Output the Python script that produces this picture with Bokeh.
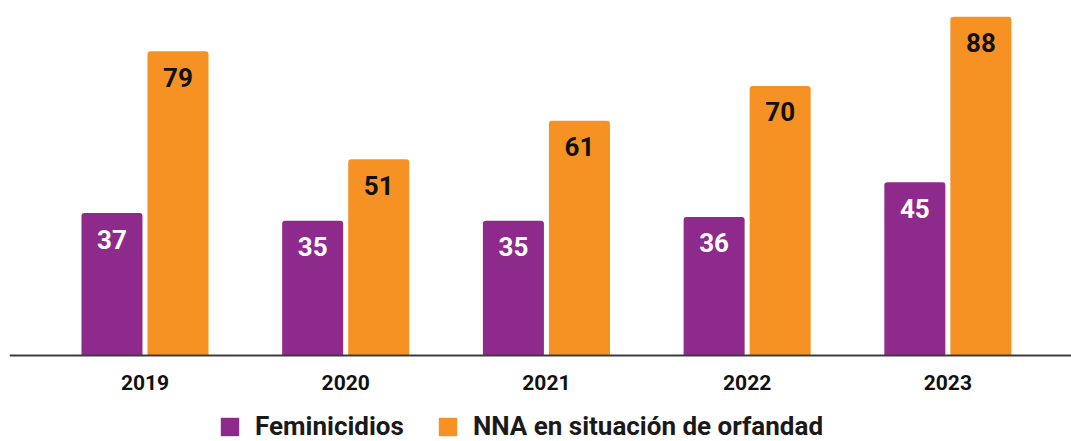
from bokeh.plotting import figure
from bokeh.models import ColumnDataSource, Legend, LegendItem, Range1d, Span
from bokeh.core.properties import value
from bokeh.embed import file_html
from bokeh.resources import INLINE

years = ["2019", "2020", "2021", "2022", "2023"]
feminicidios = [37, 35, 35, 36, 45]
orfandad = [79, 51, 61, 70, 88]

PURPLE = "#8E2A8C"
ORANGE = "#F59223"
FONT = "Roboto"

idx = list(range(len(years)))
off = 0.1645
bw = 0.304

src_f = ColumnDataSource(dict(x=[i - off for i in idx], top=feminicidios,
                              lbl=[str(v) for v in feminicidios]))
src_o = ColumnDataSource(dict(x=[i + off for i in idx], top=orfandad,
                              lbl=[str(v) for v in orfandad]))
src_y = ColumnDataSource(dict(x=idx, y=[0] * len(idx), lbl=years))

p = figure(width=1071, height=441, output_backend="svg", toolbar_location=None,
           x_range=Range1d(-0.675, 4.616), y_range=Range1d(-22.34, 92.2),
           min_border_left=9, min_border_right=0, min_border_top=0, min_border_bottom=0)

r1 = p.vbar(x="x", top="top", bottom=0, width=bw, source=src_f, fill_color=PURPLE,
            line_color=None, border_radius=(3, 3, 0, 0))
r2 = p.vbar(x="x", top="top", bottom=0, width=bw, source=src_o, fill_color=ORANGE,
            line_color=None, border_radius=(3, 3, 0, 0))

p.text(x="x", y="top", text="lbl", source=src_f, text_color="white",
       text_font=value(FONT), text_font_style="bold", text_font_size="26px",
       text_align="center", text_baseline="middle", y_offset=26)
p.text(x="x", y="top", text="lbl", source=src_o, text_color="#111111",
       text_font=value(FONT), text_font_style="bold", text_font_size="26px",
       text_align="center", text_baseline="middle", y_offset=26)

# category axis: baseline and year labels
p.add_layout(Span(location=0, dimension="width", line_color="#3c3c3c", line_width=2))
p.text(x="x", y="y", text="lbl", source=src_y, text_color="#111111",
       text_font=value(FONT), text_font_style="bold", text_font_size="21px",
       text_align="center", text_baseline="middle", y_offset=27)

p.xaxis.visible = False
p.yaxis.visible = False
p.xgrid.visible = False
p.ygrid.visible = False
p.outline_line_color = None

legend = Legend(items=[LegendItem(label="Feminicidios", renderers=[r1]),
                       LegendItem(label="NNA en situación de orfandad", renderers=[r2])],
                orientation="horizontal", location=(209, 0),
                glyph_width=23, glyph_height=23, label_standoff=14, spacing=32,
                padding=0, margin=0, border_line_color=None, background_fill_alpha=0,
                label_text_font=FONT, label_text_font_style="bold",
                label_text_font_size="26px", label_text_color="#1a1a1a")
p.add_layout(legend, "center")

open("out.html", "w").write(file_html(p, INLINE))
